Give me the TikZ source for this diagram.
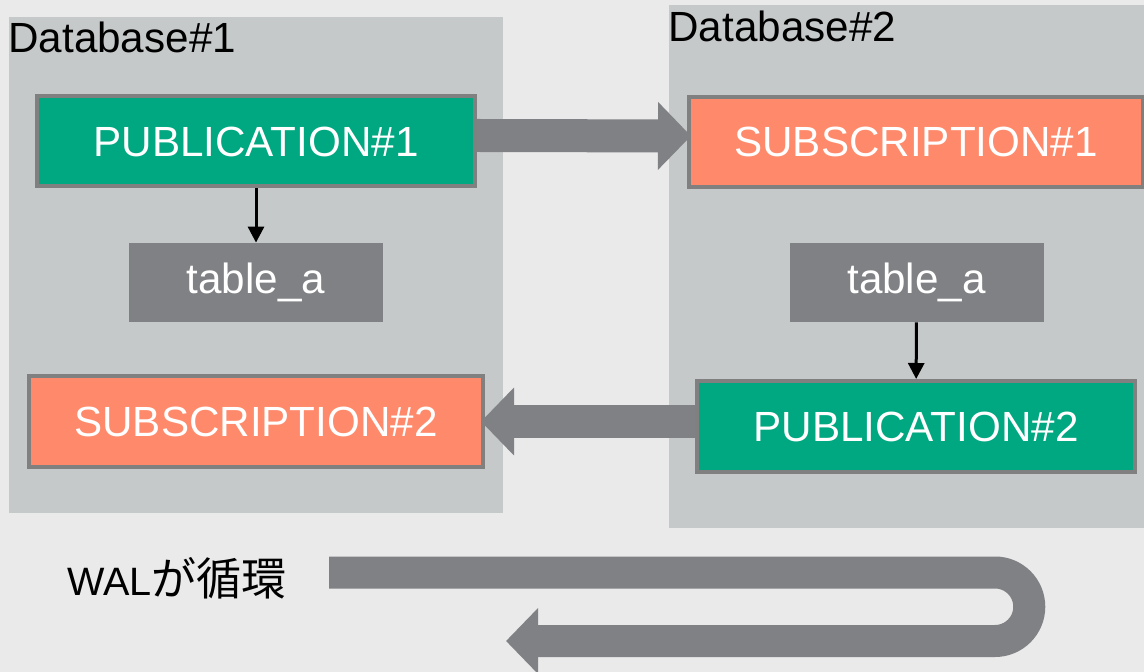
\documentclass[tikz,border=0pt]{standalone}
\usepackage{fontspec}
\setmainfont{Liberation Sans}
\newfontfamily\cjk{Noto Sans CJK JP}
\usetikzlibrary{arrows.meta}
\definecolor{bgback}{HTML}{EAEAEA}
\definecolor{dbgray}{HTML}{C6C9CA}
\definecolor{pubgreen}{HTML}{00A882}
\definecolor{subsalmon}{HTML}{FF8A6B}
\definecolor{flowgray}{HTML}{808184}
\definecolor{edgegray}{HTML}{808080}
\begin{document}
\begin{tikzpicture}[x=0.5pt,y=-0.5pt,
    every node/.style={font=\fontsize{21.1}{24}\selectfont,inner sep=0pt},
    pubbox/.style={fill=pubgreen,draw=edgegray,line width=2pt,text=white,minimum width=219pt,minimum height=45pt},
    subbox/.style={fill=subsalmon,draw=edgegray,line width=2pt,text=white,minimum width=227pt,minimum height=45pt},
    tablebox/.style={fill=flowgray,text=white,minimum width=127pt,minimum height=39.5pt},
    flowarrow/.style={flowgray,line width=16.5pt,-{Triangle[length=16.5pt,width=33pt]}},
    walarrow/.style={flowgray,line width=16pt,-{Triangle[length=16pt,width=32pt]}},
    linkarrow/.style={black,line width=1.5pt,-{Triangle[length=8pt,width=8pt]}}]
        \useasboundingbox (0,0) rectangle (1144,672);
        \fill[bgback] (0,0) rectangle (1144,672);
        %% Databases
        \fill[dbgray] (9,17) rectangle (503,513);
        \fill[dbgray] (669,5) rectangle (1144,528);
        \node[anchor=base west] (dbnamea) at (8,53) {Database\#1};
        \node[anchor=base west] (dbnameb) at (668,42) {Database\#2};
        %% Publications, subscriptions and tables
        \node[pubbox] (pub1) at (256,141.5) {PUBLICATION\#1};
        \node[subbox] (sub1) at (916,142) {SUBSCRIPTION\#1};
        \node[tablebox] (table1) at (256,282.5) {table\_a};
        \node[tablebox] (table2) at (916.5,282.5) {table\_a};
        \node[pubbox,minimum height=45.5pt] (pub2) at (916,426.5) {PUBLICATION\#2};
        \node[subbox,minimum height=45.5pt] (sub2) at (256,421.5) {SUBSCRIPTION\#2};
        %% Replication
        \draw[linkarrow] (pub1) -- (table1);
        \draw[linkarrow] (table2) -- (pub2);
        \draw[flowarrow] ([yshift=3pt]pub1.east) -- ([xshift=2pt,yshift=3pt]sub1.west);
        \draw[flowarrow] ([yshift=2.5pt]pub2.west) -- ([xshift=-2pt]sub2.east);
        %% WAL loop
        \node[anchor=base west,font=\fontsize{19.8}{24}\selectfont] (wal) at (67,595) {WAL{\cjk\fontsize{22.5}{24}\selectfont が循環}};
        \coordinate (walstart) at (329,572.5);
        \coordinate (walend) at (506,641);
        \draw[walarrow] (walstart) -- (995,572.5) arc[start angle=90,end angle=-90,radius=17.125pt] -- (walend);
\end{tikzpicture}
\end{document}
